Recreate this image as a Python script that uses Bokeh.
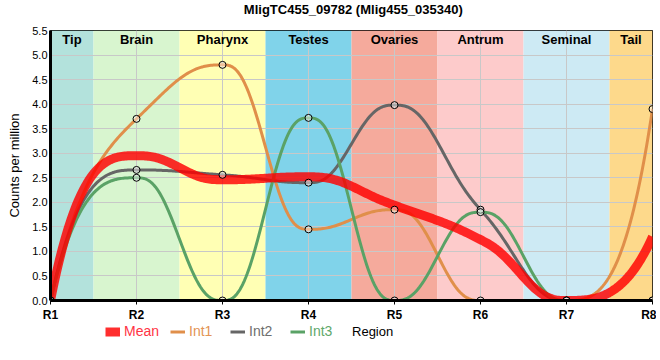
import numpy as np
from bokeh.plotting import figure
from bokeh.layouts import column
from bokeh.models import Range1d, FixedTicker, PrintfTickFormatter, Legend, LegendItem
from bokeh.core.properties import value
from bokeh.embed import file_html
from bokeh.resources import INLINE

# ---- data ----
title_text = "MligTC455_09782 (Mlig455_035340)"
regions = ["R1", "R2", "R3", "R4", "R5", "R6", "R7", "R8"]
tissues = ["Tip", "Brain", "Pharynx", "Testes", "Ovaries", "Antrum", "Seminal", "Tail"]
tissue_colors = ["#b3e2dc", "#d8f5cf", "#ffffb4", "#80d3ea", "#f5aa9c", "#fdcbcb", "#cdeaf4", "#fdd98b"]
int1 = [0.0, 3.70, 4.80, 1.45, 1.85, 0.0, 0.0, 3.90]
int2 = [0.0, 2.66, 2.56, 2.40, 3.98, 1.85, 0.0, 0.0]
int3 = [0.0, 2.50, 0.0, 3.72, 0.0, 1.80, 0.0, 0.0]
mean = [0.0, 2.95, 2.46, 2.52, 1.94, 1.24, 0.0, 1.30]
y_ticks = [0.0, 0.5, 1.0, 1.5, 2.0, 2.5, 3.0, 3.5, 4.0, 4.5, 5.0, 5.5]
series_names = ["Mean", "Int1", "Int2", "Int3"]
line_colors = {"Mean": "#ff0000", "Int1": "#e08f4a", "Int2": "#666666", "Int3": "#5aa266"}
label_colors = {"Mean": "#ff3344", "Int1": "#e39455", "Int2": "#6e6e6e", "Int3": "#5fa86c"}
line_widths = {"Mean": 9, "Int1": 3, "Int2": 3, "Int3": 3}
line_alphas = {"Mean": 0.82, "Int1": 1.0, "Int2": 1.0, "Int3": 1.0}

FONT = value("Liberation Sans")
W = 656
xpos = list(range(1, len(regions) + 1))


def smooth(ys, n=60):
    k = len(ys)
    m = [0.0] * k
    for i in range(1, k - 1):
        s0 = ys[i] - ys[i - 1]
        s1 = ys[i + 1] - ys[i]
        if s0 * s1 > 0:
            m[i] = 2 * s0 * s1 / (s0 + s1)
    X, Y = [], []
    t = np.linspace(0, 1, n)
    for i in range(k - 1):
        y0, y1 = ys[i], ys[i + 1]
        if i == 0:
            s = 1 - t
            c3 = (y0 - y1) + m[i + 1]
            y = y1 - m[i + 1] * s + c3 * s ** 3
        elif i == k - 2:
            y = y0 + m[i] * t + (y1 - y0 - m[i]) * t ** 3
        else:
            H0 = 1 - 10 * t**3 + 15 * t**4 - 6 * t**5
            H1 = t - 6 * t**3 + 8 * t**4 - 3 * t**5
            H4 = -4 * t**3 + 7 * t**4 - 3 * t**5
            H5 = 10 * t**3 - 15 * t**4 + 6 * t**5
            y = y0 * H0 + m[i] * H1 + m[i + 1] * H4 + y1 * H5
        X.extend(list(xpos[i] + t))
        Y.extend(list(y))
    return X, Y


def blank(height):
    f = figure(width=W, height=height, x_range=Range1d(0, W), y_range=Range1d(0, height),
               output_backend="svg", toolbar_location=None, x_axis_type=None, y_axis_type=None)
    f.min_border_left = 0
    f.min_border_right = 0
    f.min_border_top = 0
    f.min_border_bottom = 0
    f.outline_line_color = None
    f.grid.visible = False
    return f


# ---- title row ----
t = blank(18)
t.text(x=[330], y=[9], text=[title_text], text_align="center", text_baseline="middle",
       text_font=FONT, text_font_style="bold", text_font_size="13px", text_color="black")

# ---- main plot ----
p = figure(width=W, height=306, x_range=Range1d(1, len(regions)), y_range=Range1d(0, 5.5),
           output_backend="svg", toolbar_location=None)
p.min_border_left = 50
p.min_border_right = 4
p.min_border_top = 12
p.min_border_bottom = 24

# bands
lefts = [max(x - 0.5, xpos[0]) for x in xpos]
rights = [min(x + 0.5, xpos[-1]) for x in xpos]
p.quad(left=lefts, right=rights, bottom=0, top=5.5, fill_color=tissue_colors,
       line_color=None, level="image")

# grid
p.xgrid.ticker = FixedTicker(ticks=xpos)
p.ygrid.ticker = FixedTicker(ticks=y_ticks)
for g in (p.xgrid, p.ygrid):
    g.grid_line_color = "#c8c8c8"
    g.grid_line_width = 1

# tissue labels
centers = [(l + r) / 2 for l, r in zip(lefts, rights)]
p.text(x=centers, y=[5.5] * len(centers), text=tissues, text_align="center",
       text_baseline="middle", y_offset=9, text_font=FONT, text_font_style="bold",
       text_font_size="13px", text_color="black")

# axes
p.xaxis.ticker = FixedTicker(ticks=xpos)
p.xaxis.major_label_overrides = {x: r for x, r in zip(xpos, regions)}
p.yaxis.ticker = FixedTicker(ticks=y_ticks)
p.yaxis.formatter = PrintfTickFormatter(format="%.1f")
for ax in (p.xaxis, p.yaxis):
    ax.axis_line_width = 3
    ax.axis_line_color = "black"
    ax.major_tick_line_color = "black"
    ax.minor_tick_line_color = None
    ax.major_label_text_font = "Liberation Sans"
    ax.major_label_text_color = "black"
    ax.axis_label_text_font = "Liberation Sans"
    ax.axis_label_text_font_style = "normal"
    ax.axis_label_text_font_size = "13px"
    ax.axis_label_text_color = "black"
p.xaxis.major_tick_out = 4
p.xaxis.major_tick_in = 0
p.xaxis.major_label_text_font_size = "12px"
p.xaxis.major_label_text_font_style = "bold"
p.xaxis.major_label_standoff = 3
p.yaxis.major_tick_out = 0
p.yaxis.major_tick_in = 0
p.yaxis.major_label_text_font_size = "11px"
p.yaxis.major_label_standoff = 3
p.yaxis.axis_label = "Counts per million"
p.yaxis.axis_label_standoff = 7

p.outline_line_color = "black"
p.outline_line_width = 1

# lines
series_data = {"Mean": mean, "Int1": int1, "Int2": int2, "Int3": int3}
for name in ["Int1", "Int2", "Int3", "Mean"]:
    X, Y = smooth(series_data[name])
    p.line(X, Y, line_color=line_colors[name], line_width=line_widths[name],
           line_alpha=line_alphas[name], line_join="round")

for name in ["Int1", "Int2", "Int3"]:
    p.scatter(x=xpos, y=series_data[name], marker="circle", size=7, fill_color="white",
              fill_alpha=0.45, line_color="black", line_width=1)

# ---- legend row (legend + x-axis title on the same line) ----
q = blank(30)
q.text(x=[351], y=[23], text=["Region"], text_align="center", text_baseline="middle",
       text_font=FONT, text_font_size="13px", text_color="black")

leg_offsets = {"Mean": 55, "Int1": 120, "Int2": 180, "Int3": 240}
for name in series_names:
    # legend proxy, kept below the visible range
    r = q.line(x=[0, 1], y=[-50, -50], line_color=line_colors[name],
               line_width=line_widths[name], line_alpha=line_alphas[name])
    lg = Legend(items=[LegendItem(label=name, renderers=[r])],
                location=(leg_offsets[name], 15), orientation="horizontal",
                background_fill_alpha=0, border_line_alpha=0, padding=0, margin=0,
                spacing=0, glyph_width=15, glyph_height=15, label_height=15,
                label_standoff=4, label_text_font="Liberation Sans",
                label_text_font_size="14px", label_text_color=label_colors[name])
    q.add_layout(lg, "center")

layout = column(t, p, q, spacing=0)
open("out.html", "w").write(file_html(layout, INLINE))
